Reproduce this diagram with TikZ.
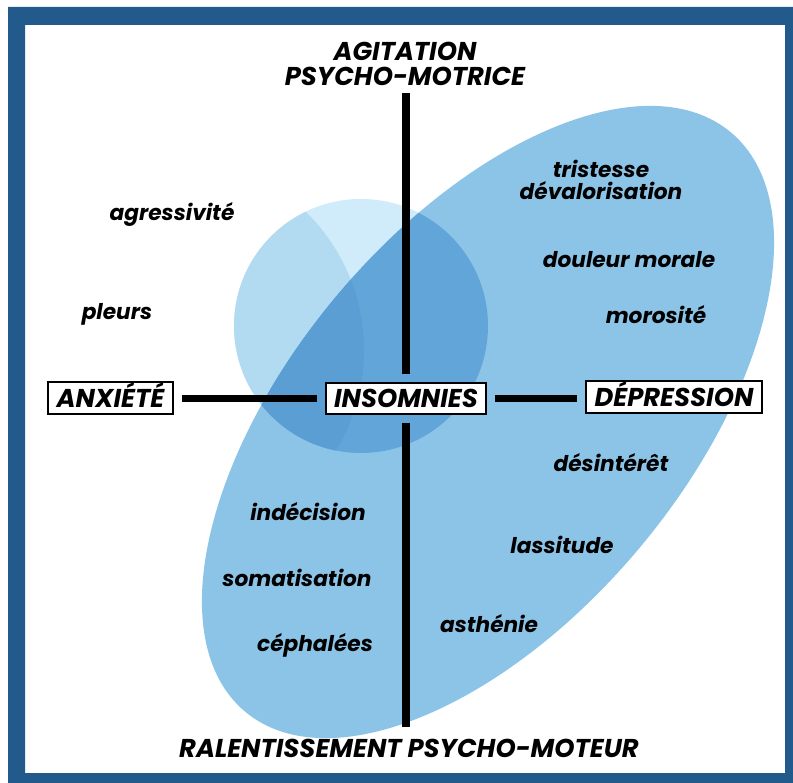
\documentclass[tikz,border=0pt]{standalone}
\usepackage{fontspec}
\setmainfont{Poppins}
\usepackage{tikz}

\definecolor{framecol}{RGB}{35,90,140}
\definecolor{ellcol}{RGB}{140,196,232}
\definecolor{circpale}{RGB}{208,235,249}
\definecolor{circlight}{RGB}{178,219,242}
\definecolor{overlap}{RGB}{98,166,217}
\definecolor{overlapdk}{RGB}{90,158,212}

\begin{document}
\begin{tikzpicture}[x=0.3mm,y=-0.3mm,
    axis/.style={line width=6pt,shorten <=2.4mm,shorten >=2.4mm},
    capsfont/.style={font=\fontsize{22}{22}\selectfont\bfseries\itshape,
        text height=15.4pt,text depth=0pt,inner sep=0pt},
    capsbox/.style={capsfont,draw,line width=1.6pt,fill=white,
        inner xsep=2.5mm,inner ysep=2mm},
    symptom/.style={font=\fontsize{18.5}{18.5}\selectfont\bfseries\itshape,
        text height=13.9pt,text depth=3.7pt,inner sep=0pt}]
    \useasboundingbox (0,0) rectangle (793,783);
    \fill[white] (0,0) rectangle (793,783);
    \fill[framecol,even odd rule] (8,7) rectangle (793,783) (25,25) rectangle (785,773);

    % zones
    \fill[circpale] (361,326) circle (127);
    \begin{scope}
        \clip (361,326) circle (127);
        \fill[circlight] (171,350) circle (193);
    \end{scope}
    \fill[ellcol,rotate around={50:(488,422)}] (488,422) ellipse [x radius=378,y radius=197];
    \begin{scope}
        \clip[rotate around={50:(488,422)}] (488,422) ellipse [x radius=378,y radius=197];
        \fill[overlap] (361,326) circle (127);
        \clip (361,326) circle (127);
        \fill[overlapdk] (171,350) circle (193);
    \end{scope}

    % axes
    \node[capsfont] (agit) at (405,51) {AGITATION};
    \node[capsfont] (psymot) at (405,76) {PSYCHO-MOTRICE};
    \node[capsfont] (ralent) at (409,748) {RALENTISSEMENT PSYCHO-MOTEUR};
    \node[capsbox] (ins) at (406,398.5) {INSOMNIES};
    \node[capsbox] (anx) at (110.5,398) {ANXIÉTÉ};
    \node[capsbox] (dep) at (674,397) {DÉPRESSION};

    \draw[axis] (ins.north) -- (ins.north |- psymot.south);
    \draw[axis,shorten >=3.6mm] (ins.south) -- (ins.south |- ralent.north);
    \draw[axis] (ins.west) -- (ins.west -| anx.east);
    \draw[axis] (ins.east) -- (ins.east -| dep.west);

    % symptomes
    \node[symptom] (agress) at (172,215) {agressivité};
    \node[symptom] (pleurs) at (117,314) {pleurs};
    \node[symptom] (trist) at (601,172) {tristesse};
    \node[symptom] (deval) at (601,194) {dévalorisation};
    \node[symptom] (douleur) at (629,262) {douleur morale};
    \node[symptom] (moros) at (656,318) {morosité};
    \node[symptom] (desint) at (611,466) {désintérêt};
    \node[symptom] (lassit) at (562,548) {lassitude};
    \node[symptom] (asthen) at (489,627) {asthénie};
    \node[symptom] (indec) at (308,515) {indécision};
    \node[symptom] (somat) at (297,581) {somatisation};
    \node[symptom] (cephal) at (315,646) {céphalées};
\end{tikzpicture}
\end{document}
